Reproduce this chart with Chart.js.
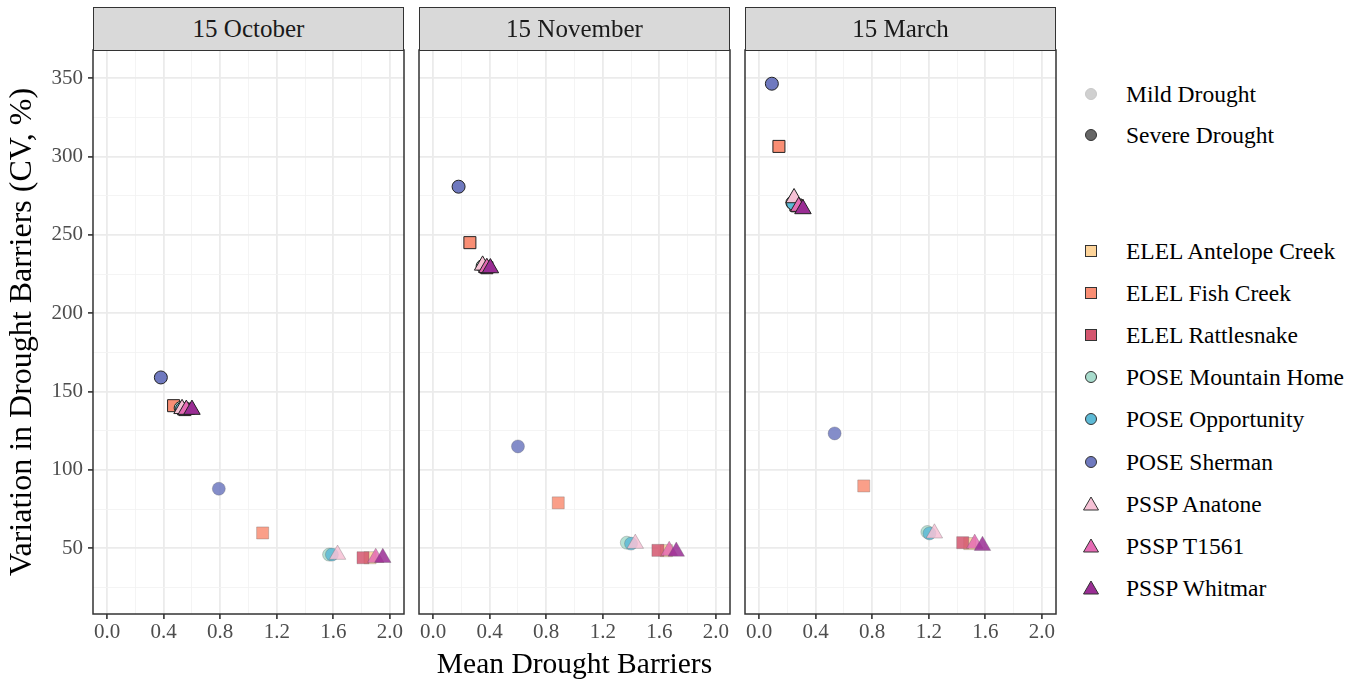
<!DOCTYPE html>
<html>
<head>
<meta charset="utf-8">
<script src="https://cdn.jsdelivr.net/npm/chart.js@4.4.1/dist/chart.umd.min.js"></script>
<style>
  body { margin: 0; background: #fff; width: 1362px; height: 683px; position: relative; overflow: hidden;
         font-family: "Liberation Serif", "Times New Roman", serif; }
  canvas { position: absolute; top: 0; }
  .strip { position: absolute; top: 7px; height: 44px; width: 311px; box-sizing: border-box;
           background: #D9D9D9; border: 1.5px solid #333; color: #1A1A1A; font-size: 25px;
           text-align: center; line-height: 41px; }
  .leg { position: absolute; left: 1080px; height: 30px; line-height: 30px; font-size: 23.5px; color: #000; white-space: nowrap; }
  .leg svg { position: absolute; left: 0; top: 7px; }
  .leg span { position: absolute; left: 46px; }
</style>
</head>
<body>
<canvas id="oct" width="418" height="683" style="left:0px"></canvas>
<canvas id="nov" width="339" height="683" style="left:405px"></canvas>
<canvas id="mar" width="339" height="683" style="left:731px"></canvas>
<div class="strip" style="left:93px">15 October</div>
<div class="strip" style="left:419px">15 November</div>
<div class="strip" style="left:745px">15 March</div>
<div id="legend"></div>
<script>
// sites, in legend order
const sites = ['ELEL Antelope Creek', 'ELEL Fish Creek', 'ELEL Rattlesnake',
               'POSE Mountain Home', 'POSE Opportunity', 'POSE Sherman',
               'PSSP Anatone', 'PSSP T1561', 'PSSP Whitmar'];
const siteColors = ['#FDD49A', '#F98E74', '#D4566F', '#A8DCCD', '#5DBAD6', '#6F79BF', '#F6C1D5', '#E56BB4', '#9A2D94'];
const siteShapes = ['rect', 'rect', 'rect', 'circle', 'circle', 'circle', 'triangle', 'triangle', 'triangle'];
const panels = ['15 October', '15 November', '15 March'];

// 15 October
const octMildX = [1.86, 1.10, 1.81, 1.57, 1.59, 0.79, 1.63, 1.90, 1.95];
const octMildY = [44, 59.8, 44, 46, 46, 88, 46, 44, 44];
const octSevereX = [0.54, 0.47, 0.55, 0.52, 0.53, 0.38, 0.53, 0.56, 0.60];
const octSevereY = [139, 141, 138.5, 139.5, 139, 159, 139, 138.5, 138.5];

// 15 November
const novMildX = [1.65, 0.885, 1.59, 1.37, 1.40, 0.60, 1.43, 1.67, 1.72];
const novMildY = [48.5, 79, 48.7, 53.6, 53, 115, 53, 48.5, 48];
const novSevereX = [0.37, 0.26, 0.38, 0.35, 0.36, 0.18, 0.35, 0.38, 0.405];
const novSevereY = [229.5, 245, 229, 230, 229.5, 280.7, 230.5, 229, 228.8];

// 15 March
const marMildX = [1.49, 0.74, 1.44, 1.19, 1.205, 0.534, 1.24, 1.525, 1.58];
const marMildY = [53, 89.8, 53.6, 60.4, 59.5, 123.3, 59.6, 53, 51.7];
const marSevereX = [0.26, 0.14, 0.27, 0.235, 0.24, 0.09, 0.247, 0.28, 0.31];
const marSevereY = [269, 306.4, 268.5, 270.5, 270, 346.4, 273.5, 268, 266.5];

const xTicks = [0, 0.2, 0.4, 0.6, 0.8, 1.0, 1.2, 1.4, 1.6, 1.8, 2.0];
const yTicks = [25, 50, 75, 100, 125, 150, 175, 200, 225, 250, 275, 300, 325, 350];

const serif = '"Liberation Serif", "Times New Roman", serif';

function withAlpha(hex, a) {
    const n = parseInt(hex.slice(1), 16);
    return 'rgba(' + (n >> 16) + ',' + ((n >> 8) & 255) + ',' + (n & 255) + ',' + a + ')';
}
const radii = siteShapes.map(s => s === 'circle' ? 6.5 : s === 'rect' ? 8.5 : 9.5);
const xMajor = v => Math.round(v * 5) % 2 === 0;
const yMajor = v => v % 50 === 0;

// black frame round each panel
const panelBorder = {
    id: 'panelBorder',
    afterDraw(chart) {
        const { ctx, chartArea: a } = chart;
        ctx.save();
        ctx.strokeStyle = '#333';
        ctx.lineWidth = 1.5;
        ctx.strokeRect(a.left, a.top, a.right - a.left, a.bottom - a.top);
        ctx.restore();
    }
};

function makePanel(id, mildX, mildY, sevX, sevY, first, middle) {
    new Chart(document.getElementById(id), {
        type: 'scatter',
        data: {
            datasets: [{
                label: 'Mild Drought',
                data: sites.map((s, i) => ({ x: mildX[i], y: mildY[i] })),
                pointStyle: siteShapes,
                pointRadius: radii,
                pointBackgroundColor: siteColors.map(c => withAlpha(c, 0.85)),
                pointBorderColor: 'rgba(90,90,90,0.3)',
                pointBorderWidth: 1
            }, {
                label: 'Severe Drought',
                data: sites.map((s, i) => ({ x: sevX[i], y: sevY[i] })),
                pointStyle: siteShapes,
                pointRadius: radii,
                pointBackgroundColor: siteColors,
                pointBorderColor: '#222',
                pointBorderWidth: 1
            }]
        },
        options: {
            responsive: false,
            animation: false,
            events: [],
            layout: { padding: { top: 50, bottom: 0, left: first ? 0 : 14, right: 14 } },
            plugins: { legend: { display: false }, tooltip: { enabled: false } },
            scales: {
                x: {
                    type: 'linear', min: -0.1, max: 2.1,
                    afterBuildTicks: s => { s.ticks = xTicks.map(v => ({ value: v })); },
                    afterFit: s => { s.height = 69; },
                    border: { display: false },
                    grid: {
                        color: c => c.tick && xMajor(c.tick.value) ? '#EBEBEB' : '#F3F3F3',
                        lineWidth: c => c.tick && xMajor(c.tick.value) ? 1.8 : 0.9,
                        tickLength: 5,
                        tickWidth: 1.6,
                        tickColor: c => c.tick && xMajor(c.tick.value) ? '#333' : 'rgba(0,0,0,0)'
                    },
                    ticks: {
                        autoSkip: false, maxRotation: 0, padding: 1,
                        color: '#4D4D4D', font: { family: serif, size: 21 },
                        callback: v => xMajor(v) ? v.toFixed(1) : ''
                    },
                    title: {
                        display: middle, text: 'Mean Drought Barriers', color: '#000',
                        font: { family: serif, size: 29.5 }, padding: { top: 0, bottom: 0 }
                    }
                },
                y: {
                    type: 'linear', min: 8.1, max: 367.9,
                    afterBuildTicks: s => { s.ticks = yTicks.map(v => ({ value: v })); },
                    afterFit: s => { s.width = first ? 93 : 0; },
                    border: { display: false },
                    grid: {
                        color: c => c.tick && yMajor(c.tick.value) ? '#EBEBEB' : '#F3F3F3',
                        lineWidth: c => c.tick && yMajor(c.tick.value) ? 1.8 : 0.9,
                        drawTicks: first,
                        tickLength: 5,
                        tickWidth: 1.6,
                        tickColor: c => c.tick && yMajor(c.tick.value) ? '#333' : 'rgba(0,0,0,0)'
                    },
                    ticks: {
                        display: first, autoSkip: false, padding: 5,
                        color: '#4D4D4D', font: { family: serif, size: 21 },
                        callback: v => yMajor(v) ? String(v) : ''
                    },
                    title: {
                        display: first, text: 'Variation in Drought Barriers (CV, %)', color: '#000',
                        font: { family: serif, size: 32 }, padding: { top: 3, bottom: 0 }
                    }
                }
            }
        },
        plugins: [panelBorder]
    });
}

makePanel('oct', octMildX, octMildY, octSevereX, octSevereY, true, false);
makePanel('nov', novMildX, novMildY, novSevereX, novSevereY, false, true);
makePanel('mar', marMildX, marMildY, marSevereX, marSevereY, false, false);

// legend
function markerSvg(shape, fill, stroke) {
    let m;
    if (shape === 'circle') m = '<circle cx="11" cy="8" r="5.5" fill="' + fill + '" stroke="' + stroke + '" stroke-width="1"/>';
    else if (shape === 'rect') m = '<rect x="5.5" y="2.5" width="11" height="11" fill="' + fill + '" stroke="' + stroke + '" stroke-width="1"/>';
    else m = '<polygon points="11,1 18.5,14 3.5,14" fill="' + fill + '" stroke="' + stroke + '" stroke-width="1"/>';
    return '<svg width="22" height="16">' + m + '</svg>';
}
const legend = document.getElementById('legend');
const severityNames = ['Mild Drought', 'Severe Drought'];
const severityTop = [79, 120];
const severityFill = ['#D0D0D0', '#666666'];
const severityStroke = ['#C8C8C8', '#333'];
severityNames.forEach((n, i) => {
    legend.insertAdjacentHTML('beforeend', '<div class="leg" style="top:' + severityTop[i] + 'px">' +
        markerSvg('circle', severityFill[i], severityStroke[i]) + '<span>' + n + '</span></div>');
});
sites.forEach((n, i) => {
    const top = 236 + i * 42.1;
    legend.insertAdjacentHTML('beforeend', '<div class="leg" style="top:' + top + 'px">' +
        markerSvg(siteShapes[i], siteColors[i], '#333') + '<span>' + n + '</span></div>');
});
</script>
</body>
</html>
